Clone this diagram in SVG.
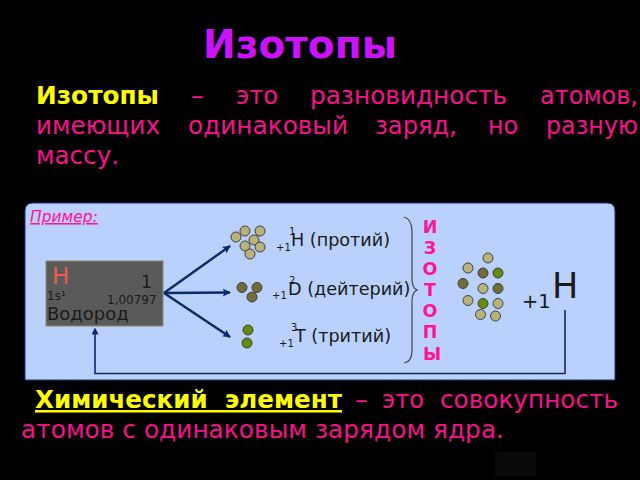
<svg xmlns="http://www.w3.org/2000/svg" width="640" height="480" viewBox="0 0 640 480">
<defs>
<marker id="ah" viewBox="0 0 10 10" refX="9" refY="5" markerWidth="9" markerHeight="8" markerUnits="userSpaceOnUse" orient="auto"><path d="M0 0L10 5L0 10L2 5Z" fill="#0a2a6a"/></marker>
<marker id="ab" viewBox="0 0 10 10" refX="5" refY="5" markerWidth="7" markerHeight="7" markerUnits="userSpaceOnUse" orient="auto"><path d="M0 0L10 5L0 10Z" fill="#0a2a6a"/></marker>
</defs>
<style>
text{font-family:"DejaVu Sans",sans-serif}
.p{fill:#f5138c;font-size:25.500px}
.y{fill:#ffff00;font-size:25.500px;font-weight:bold}
.k{fill:#1a1a1a}
.l{fill:#1a1a1a;font-size:17.600px}
.n1{fill:#b8b27c;stroke:#333;stroke-width:.9}
.n2{fill:#746c38;stroke:#333;stroke-width:.9}
.n3{fill:#648c0a;stroke:#333;stroke-width:.9}
.c{fill:none;stroke:#0a2a6a;stroke-width:2.400}
</style>
<rect width="640" height="480" fill="#000"/>
<rect x="495" y="452" width="41" height="24" fill="#0a0a0a"/>
<text x="203" y="58" textLength="194" lengthAdjust="spacingAndGlyphs" font-size="39" font-weight="bold" fill="#cc11ff">Изотопы</text>
<text x="36" y="104" class="y" textLength="123" lengthAdjust="spacingAndGlyphs">Изотопы</text>
<text x="191" y="104" class="p">–</text>
<text x="236" y="104" class="p" textLength="42" lengthAdjust="spacingAndGlyphs">это</text>
<text x="310" y="104" class="p" textLength="197" lengthAdjust="spacingAndGlyphs">разновидность</text>
<text x="540" y="104" class="p" textLength="98" lengthAdjust="spacingAndGlyphs">атомов,</text>
<text x="36" y="134" class="p" textLength="124" lengthAdjust="spacingAndGlyphs">имеющих</text>
<text x="188" y="134" class="p" textLength="160" lengthAdjust="spacingAndGlyphs">одинаковый</text>
<text x="375" y="134" class="p" textLength="82" lengthAdjust="spacingAndGlyphs">заряд,</text>
<text x="488" y="134" class="p" textLength="30" lengthAdjust="spacingAndGlyphs">но</text>
<text x="546" y="134" class="p" textLength="92" lengthAdjust="spacingAndGlyphs">разную</text>
<text x="36" y="164" class="p" textLength="83" lengthAdjust="spacingAndGlyphs">массу.</text>
<path d="M33 203H607Q615 203 615 211V380H25V211Q25 203 33 203Z" fill="#b9d1fc" stroke="#1c3a78" stroke-width="1"/>
<text x="30" y="222" font-size="15.500" font-style="italic" fill="#ff1493" text-decoration="underline">Пример:</text>
<g id="element">
<rect x="46" y="261" width="117" height="65" fill="#5a5a5a" stroke="#8a8a60" stroke-width="1"/>
<text x="52" y="284" font-size="23" fill="#f05a4a">H</text>
<text x="141" y="288" font-size="17" class="k">1</text>
<text x="47" y="300" font-size="12" class="k">1s¹</text>
<text x="107" y="304" font-size="12" class="k">1,00797</text>
<text x="47" y="320" font-size="18" class="k">Водород</text>
</g>
<g id="connectors">
<path class="c" d="M164 293L230 246" marker-end="url(#ah)"/>
<path class="c" d="M164 293L230 292.500" marker-end="url(#ah)"/>
<path class="c" d="M164 293L230 337" marker-end="url(#ah)"/>
<path class="c" d="M565 310V373.500H95V331" marker-end="url(#ab)" style="stroke-width:1.600"/>
</g>
<g id="protium">
<circle class="n1" cx="245" cy="231" r="5"/><circle class="n1" cx="260" cy="231" r="5"/><circle class="n1" cx="236" cy="237" r="5"/><circle class="n1" cx="254" cy="240" r="5"/><circle class="n1" cx="245" cy="246" r="5"/><circle class="n1" cx="260" cy="247" r="5"/><circle class="n1" cx="250" cy="254" r="5"/>
<text x="289" y="235" font-size="10" class="k">1</text><text x="276" y="251" font-size="10" class="k">+1</text><text x="291" y="246" class="l">H (протий)</text>
</g>
<g id="deuterium">
<circle class="n2" cx="242" cy="287.500" r="5"/><circle class="n2" cx="257" cy="287.500" r="5"/><circle class="n2" cx="252" cy="297" r="5"/>
<text x="289" y="284" font-size="10" class="k">2</text><text x="272" y="299" font-size="10" class="k">+1</text><text x="288" y="295" class="l">D (дейтерий)</text>
</g>
<g id="tritium">
<circle class="n3" cx="248" cy="330" r="5"/><circle class="n3" cx="247" cy="343" r="5"/>
<text x="291" y="331" font-size="10" class="k">3</text><text x="279" y="347" font-size="10" class="k">+1</text><text x="295" y="342" class="l">T (тритий)</text>
</g>
<path d="M404 217Q412 219 412 232V278Q412 288 417 290Q412 292 412 302V350Q412 362 404 363" fill="none" stroke="#444" stroke-width="1.200"/>
<g font-size="17.500" font-weight="bold" fill="#ff1493" text-anchor="middle">
<text x="430" y="233">И</text><text x="430" y="254">З</text><text x="430" y="275">О</text><text x="430" y="296">Т</text><text x="430" y="317">О</text><text x="430" y="338">П</text><text x="432" y="360">Ы</text>
</g>
<g id="atom">
<circle class="n1" cx="488" cy="258" r="5"/><circle class="n1" cx="468" cy="268" r="5"/><circle class="n2" cx="483" cy="273" r="5"/><circle class="n3" cx="498" cy="273" r="5"/><circle class="n2" cx="463" cy="283.500" r="5"/><circle class="n1" cx="483" cy="288.500" r="5"/><circle class="n2" cx="498" cy="288.500" r="5"/><circle class="n1" cx="468" cy="300.500" r="5"/><circle class="n3" cx="483" cy="303.500" r="5"/><circle class="n1" cx="498" cy="303.500" r="5"/><circle class="n1" cx="480.500" cy="314.500" r="5"/><circle class="n1" cx="495.500" cy="316" r="5"/>
<text x="522" y="308" font-size="19.500" class="k">+1</text><text x="552" y="298" font-size="35" class="k">H</text>
</g>
<text x="35" y="408" class="y" text-decoration="underline" textLength="307" lengthAdjust="spacingAndGlyphs" xml:space="preserve">Химический  элемент</text>
<text x="355" y="408" class="p">–</text>
<text x="382" y="408" class="p" textLength="42" lengthAdjust="spacingAndGlyphs">это</text>
<text x="440" y="408" class="p" textLength="178" lengthAdjust="spacingAndGlyphs">совокупность</text>
<text x="21" y="438" class="p" textLength="483" lengthAdjust="spacingAndGlyphs">атомов с одинаковым зарядом ядра.</text>
</svg>
